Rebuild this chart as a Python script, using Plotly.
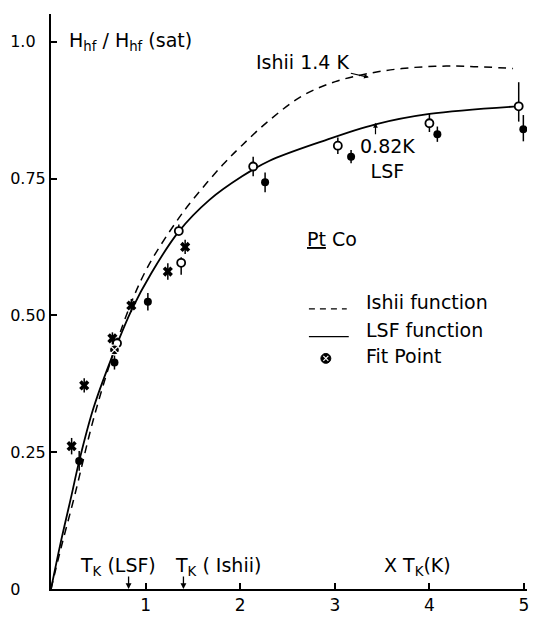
import plotly.graph_objects as go

# ---------------- data ----------------
# LSF function (solid curve)
lsf_x = [0, 0.10, 0.218, 0.30, 0.45, 0.67, 0.855, 1.06, 1.35, 1.675, 2.02, 2.305, 2.866, 3.43, 4.0, 4.944]
lsf_y = [0, 0.083, 0.172, 0.235, 0.331, 0.435, 0.511, 0.577, 0.653, 0.711, 0.754, 0.782, 0.818, 0.849, 0.868, 0.882]

# Ishii function (dashed curve)
ishii_x = [0, 0.10, 0.252, 0.45, 0.67, 0.857, 1.04, 1.32, 1.497, 1.815, 2.015, 2.305, 2.656, 3.005, 3.358, 3.708, 4.06, 4.41, 4.884]
ishii_y = [0, 0.071, 0.172, 0.311, 0.437, 0.527, 0.594, 0.670, 0.711, 0.775, 0.810, 0.856, 0.901, 0.927, 0.942, 0.951, 0.955, 0.955, 0.951]

# crosses
cross_x = [0.218, 0.351, 0.649, 0.849, 1.235, 1.418]
cross_y = [0.261, 0.372, 0.458, 0.518, 0.580, 0.625]
cross_err = [0.015, 0.013, 0.011, 0.012, 0.015, 0.013]

# filled circles
filled_x = [0.298, 0.671, 1.024, 2.263, 3.172, 4.084, 4.993]
filled_y = [0.234, 0.414, 0.525, 0.743, 0.790, 0.831, 0.840]
filled_err_p = [0.018, 0.013, 0.016, 0.018, 0.012, 0.014, 0.026]
filled_err_m = [0.018, 0.013, 0.016, 0.018, 0.012, 0.014, 0.022]

# open circles
open_x = [0.698, 1.351, 1.376, 2.137, 3.032, 4.0, 4.944]
open_y = [0.449, 0.654, 0.596, 0.772, 0.810, 0.851, 0.882]
open_err_p = [0.010, 0.012, 0.010, 0.018, 0.015, 0.017, 0.044]
open_err_m = [0.010, 0.005, 0.022, 0.018, 0.015, 0.016, 0.028]

# fit point
fit_x = [0.671]
fit_y = [0.437]

# axis ticks
x_tickvals = [1, 2, 3, 4, 5]
x_ticktext = ["1", "2", "3", "4", "5"]
y_tickvals = [0, 0.25, 0.5, 0.75, 1.0]
y_ticktext = ["0\u2008\u2007\u2007", "0.25", "0.50", "0.75", "1.0\u2007"]

# T_K markers on the axis
tk_lsf = 0.82
tk_ishii = 1.4

# ---------------- layout helpers ----------------
W, H = 534, 620
ML, MR, MT, MB = 51, 5, 14, 25
XU, YU = 95.0, 553.0
XMAX = (W - ML - MR) / XU
YMAX = (H - MT - MB) / YU


def X(px):
    return (px - ML) / XU


def Y(py):
    return (H - MB - py) / YU


FONT = "DejaVu Sans"
fs = 19

fig = go.Figure()

fig.add_trace(go.Scatter(x=ishii_x, y=ishii_y, mode="lines", name="Ishii function",
                         line=dict(color="black", width=1.5, dash="8px,6px", shape="spline", smoothing=1.0)))
fig.add_trace(go.Scatter(x=lsf_x, y=lsf_y, mode="lines", name="LSF function",
                         line=dict(color="black", width=1.8, shape="spline", smoothing=1.0)))

fig.add_trace(go.Scatter(x=cross_x, y=cross_y, mode="markers", name="crosses",
                         marker=dict(symbol="x", size=9, color="black", line=dict(width=0)),
                         error_y=dict(type="data", array=cross_err, width=0, thickness=1.5, color="black")))
fig.add_trace(go.Scatter(x=filled_x, y=filled_y, mode="markers", name="filled",
                         marker=dict(symbol="circle", size=8, color="black"),
                         error_y=dict(type="data", symmetric=False, array=filled_err_p, arrayminus=filled_err_m,
                                      width=0, thickness=1.5, color="black")))
fig.add_trace(go.Scatter(x=open_x, y=open_y, mode="markers", name="open",
                         marker=dict(symbol="circle", size=8, color="white", line=dict(color="black", width=1.8)),
                         error_y=dict(type="data", symmetric=False, array=open_err_p, arrayminus=open_err_m,
                                      width=0, thickness=1.5, color="black")))
fig.add_trace(go.Scatter(x=fit_x, y=fit_y, mode="markers", name="Fit Point",
                         marker=dict(symbol="circle-x", size=10, color="black", line=dict(color="white", width=1.2))))

ann = []
txt = dict(family=FONT, size=fs, color="black")
ann.append(dict(x=X(67), y=1.0, xref="x", yref="y", xanchor="left", yanchor="middle", showarrow=False,
                text="H<sub>hf</sub> / H<sub>hf</sub> (sat)", font=txt))
ann.append(dict(x=3.36, y=Y(78), xref="x", yref="y", ax=-66, ay=-15, showarrow=True, arrowhead=2,
                arrowsize=0.8, arrowwidth=1.2, arrowcolor="black",
                text="Ishii 1.4 K", font=txt))
ann.append(dict(x=X(389), y=Y(160), xref="x", yref="y", showarrow=False, text="0.82K<br>LSF", font=txt))
ann.append(dict(x=3.43, y=Y(124), xref="x", yref="y", ax=0, ay=13, showarrow=True, arrowhead=2,
                arrowsize=0.8, arrowwidth=1.2, arrowcolor="black", text=""))
ann.append(dict(x=X(333), y=Y(241), xref="x", yref="y", showarrow=False, text="<u>Pt</u> Co", font=txt))
# legend texts
for label, py in [("Ishii function", 305), ("LSF function", 333), ("Fit Point", 360)]:
    ann.append(dict(x=X(365), y=Y(py), xref="x", yref="y", xanchor="left", showarrow=False, text=label, font=txt))
# bottom T_K labels
ann.append(dict(x=X(118), y=Y(572), xref="x", yref="y", showarrow=False, text="T<sub>K</sub> (LSF)", font=txt))
ann.append(dict(x=X(219), y=Y(572), xref="x", yref="y", showarrow=False, text="T<sub>K</sub> ( Ishii)", font=txt))
ann.append(dict(x=X(419), y=Y(572), xref="x", yref="y", showarrow=False, text="X T<sub>K</sub>(K)", font=txt))
for tk in (tk_lsf, tk_ishii):
    ann.append(dict(x=tk, y=0, xref="x", yref="y", ax=0, ay=-14, showarrow=True, arrowhead=2,
                    arrowsize=0.9, arrowwidth=1.3, arrowcolor="black", text=""))

shapes = [
    dict(type="line", xref="x", yref="y", x0=X(310), x1=X(348), y0=Y(312), y1=Y(312),
         line=dict(color="black", width=1.3, dash="6px,5px")),
    dict(type="line", xref="x", yref="y", x0=X(310), x1=X(350), y0=Y(340), y1=Y(340),
         line=dict(color="black", width=1.3)),
    dict(type="circle", xref="x", yref="y", x0=X(322), x1=X(332), y0=Y(367), y1=Y(357),
         fillcolor="black", line=dict(color="black", width=1)),
    dict(type="line", xref="x", yref="y", x0=X(324.5), x1=X(329.5), y0=Y(364.5), y1=Y(359.5),
         line=dict(color="white", width=1.2)),
    dict(type="line", xref="x", yref="y", x0=X(324.5), x1=X(329.5), y0=Y(359.5), y1=Y(364.5),
         line=dict(color="white", width=1.2)),
]

fig.update_layout(
    width=W, height=H,
    margin=dict(l=ML, r=MR, t=MT, b=MB),
    paper_bgcolor="white", plot_bgcolor="white",
    showlegend=False,
    font=dict(family=FONT, size=fs, color="black"),
    annotations=ann, shapes=shapes,
    xaxis=dict(range=[0, XMAX], showgrid=False, zeroline=False, showline=True, linecolor="black", linewidth=2,
               ticks="inside", ticklen=6, tickwidth=1.5, tickcolor="black",
               tickvals=x_tickvals, ticktext=x_ticktext, tickfont=dict(family=FONT, size=17)),
    yaxis=dict(range=[0, YMAX], showgrid=False, zeroline=False, showline=True, linecolor="black", linewidth=2,
               ticks="inside", ticklen=6, tickwidth=1.5, tickcolor="black",
               tickvals=y_tickvals, ticktext=y_ticktext, tickfont=dict(family=FONT, size=16)),
)

fig.write_html("out.html")
